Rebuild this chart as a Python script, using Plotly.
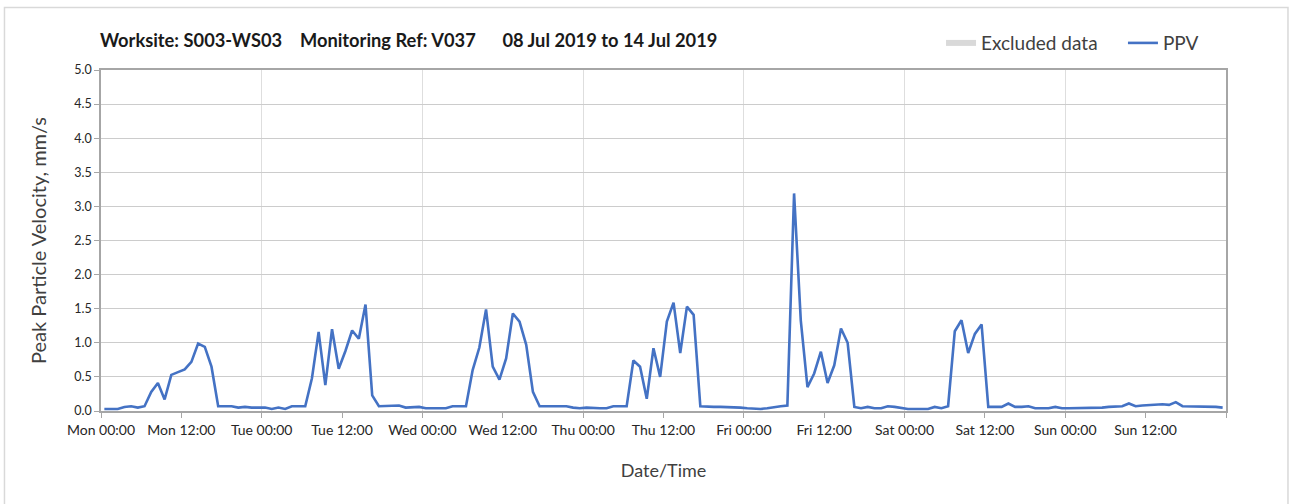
import pandas as pd
import plotly.graph_objects as go

# hourly PPV readings, Mon 08 Jul 2019 to Sun 14 Jul 2019 (mm/s)
ppv_mon = [0.03, 0.03, 0.03, 0.06, 0.07, 0.05, 0.07, 0.28, 0.41, 0.17, 0.53, 0.57,
           0.61, 0.72, 0.99, 0.94, 0.65, 0.07, 0.07, 0.07, 0.05, 0.06, 0.05, 0.05]
ppv_tue = [0.05, 0.03, 0.05, 0.03, 0.07, 0.07, 0.07, 0.48, 1.16, 0.38, 1.20, 0.62,
           0.88, 1.18, 1.06, 1.56, 0.23, 0.07, 0.07, 0.07, 0.08, 0.05, 0.06, 0.06]
ppv_wed = [0.04, 0.04, 0.04, 0.04, 0.07, 0.07, 0.07, 0.60, 0.93, 1.49, 0.65, 0.46,
           0.77, 1.43, 1.31, 0.97, 0.28, 0.07, 0.07, 0.06, 0.06, 0.07, 0.05, 0.04]
ppv_thu = [0.05, 0.04, 0.04, 0.04, 0.07, 0.07, 0.07, 0.74, 0.65, 0.18, 0.92, 0.50,
           1.31, 1.59, 0.85, 1.53, 1.41, 0.07, 0.06, 0.06, 0.06, 0.06, 0.06, 0.05]
ppv_fri = [0.04, 0.03, 0.03, 0.04, 0.06, 0.07, 0.08, 3.19, 1.33, 0.35, 0.55, 0.87,
           0.41, 0.67, 1.21, 1.00, 0.06, 0.04, 0.06, 0.04, 0.04, 0.07, 0.06, 0.04]
ppv_sat = [0.03, 0.03, 0.03, 0.03, 0.06, 0.04, 0.07, 1.17, 1.33, 0.85, 1.13, 1.27,
           0.06, 0.06, 0.06, 0.11, 0.06, 0.06, 0.07, 0.04, 0.04, 0.04, 0.06, 0.04]
ppv_sun = [0.04, 0.04, 0.04, 0.05, 0.05, 0.05, 0.06, 0.06, 0.07, 0.11, 0.07, 0.08,
           0.09, 0.10, 0.10, 0.09, 0.13, 0.07, 0.07, 0.07, 0.07, 0.06, 0.06, 0.05]

ppv = ppv_mon + ppv_tue + ppv_wed + ppv_thu + ppv_fri + ppv_sat + ppv_sun
times = pd.date_range('2019-07-08 00:30', periods=len(ppv), freq='h')

tick_labels = ['Mon 00:00', 'Mon 12:00', 'Tue 00:00', 'Tue 12:00', 'Wed 00:00', 'Wed 12:00',
               'Thu 00:00', 'Thu 12:00', 'Fri 00:00', 'Fri 12:00', 'Sat 00:00', 'Sat 12:00',
               'Sun 00:00', 'Sun 12:00', '']
tick_times = pd.date_range('2019-07-08 00:00', periods=len(tick_labels), freq='12h')
day_times = pd.date_range('2019-07-08 00:00', periods=8, freq='D')

title_text = ('Worksite: S003-WS03&nbsp;&nbsp;&nbsp;&nbsp;Monitoring Ref: V037'
              '&nbsp;&nbsp;&nbsp;&nbsp;&nbsp;&nbsp;08 Jul 2019 to 14 Jul 2019')

fig = go.Figure()
fig.add_trace(go.Scatter(x=[None], y=[None], name='Excluded data', mode='none',
                         fill='toself', fillcolor='#d9d9d9', legend='legend'))
fig.add_trace(go.Scatter(x=times, y=ppv, mode='lines', name='PPV', legend='legend2',
                         line=dict(color='#4472C4', width=2.6)))

legend_style = dict(orientation='h', xanchor='left', y=1.079, yanchor='middle',
                    font=dict(size=19, color='#404040'), bgcolor='rgba(0,0,0,0)')

fig.update_layout(
    width=1290, height=504,
    margin=dict(l=101, r=64, t=70, b=93),
    paper_bgcolor='white', plot_bgcolor='white',
    font=dict(family='Lato, Open Sans, sans-serif', size=12, color='#404040'),
    title=dict(text=title_text, x=100 / 1290, xanchor='left', y=1 - 41 / 504, yanchor='middle',
               font=dict(size=18.3, color='#1a1a1a', family='Lato, sans-serif', weight='bold')),
    legend=dict(x=0.7467, **legend_style),
    legend2=dict(x=0.9084, **legend_style),
    showlegend=True,
    shapes=[dict(type='rect', xref='paper', yref='paper', x0=-0.0858, x1=1.0551, y0=-0.3, y1=1.1833,
                 line=dict(color='#d9d9d9', width=1.5), layer='below')],
)

fig.update_xaxes(
    type='date', range=[day_times[0], day_times[-1]],
    tickmode='array', tickvals=tick_times, ticktext=tick_labels,
    showgrid=False, ticks='outside', ticklen=5, tickcolor='#a6a6a6',
    showline=True, linecolor='#a6a6a6', linewidth=1.5, mirror=True,
    tickfont=dict(size=14, color='#262626'),
    minor=dict(tickmode='array', tickvals=day_times, showgrid=True, gridcolor='#dedede', gridwidth=1.3, ticks=''),
    title=dict(text='Date/Time', font=dict(size=18, color='#404040'), standoff=28),
)
fig.update_yaxes(
    range=[0, 5], dtick=0.5, tickformat='.1f',
    showgrid=True, gridcolor='#cccccc', gridwidth=1.3, zeroline=False,
    ticks='outside', ticklen=5, tickcolor='#a6a6a6',
    showline=True, linecolor='#a6a6a6', linewidth=1.5, mirror=True,
    tickfont=dict(size=12.5, color='#262626'),
    title=dict(text='Peak Particle Velocity, mm/s', font=dict(size=20, color='#404040'), standoff=22),
)

fig.write_html('out.html', config={'displayModeBar': False}, post_script=(
    "document.body.style.margin='0';document.body.style.overflow='hidden';"
    "Plotly.relayout('{plot_id}', {width: 1290, height: 504});"))
